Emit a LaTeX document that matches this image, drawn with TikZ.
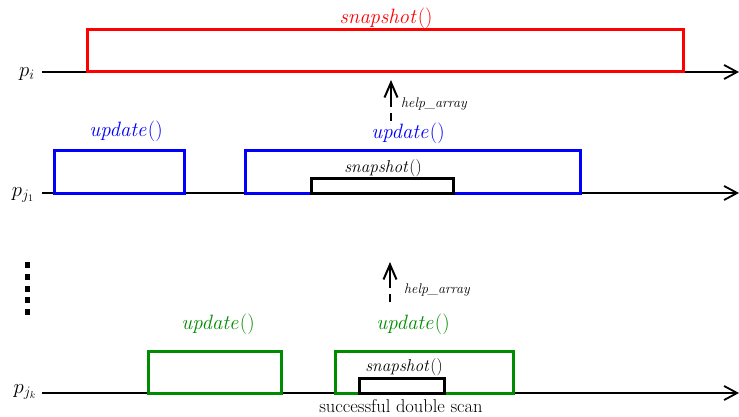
\documentclass[tikz,border=0pt]{standalone}
\usetikzlibrary{arrows.meta}
\definecolor{mygreen}{RGB}{0,140,0}
\begin{document}
\begin{tikzpicture}[x=1pt,y=-1pt,
  timeline/.style={line width=1.8pt,-{Straight Barb[length=13pt,width=14pt,line width=1.8pt]}},
  opbox/.style={line width=3pt},
  snapbox/.style={line width=3pt,black},
  biglab/.style={font=\fontsize{20}{22}\selectfont, inner sep=0pt},
  midlab/.style={font=\fontsize{17}{19}\selectfont, inner sep=0pt},
  doublab/.style={font=\fontsize{18.5}{20}\selectfont, inner sep=0pt},
  smalllab/.style={font=\fontsize{14}{16}\selectfont, inner sep=0pt},
  helparrow/.style={line width=2pt,dash pattern=on 8pt off 6pt on 40pt,-{Straight Barb[length=15pt,width=13pt,line width=2pt]}},
  dotsq/.style={fill=black,minimum width=5pt,minimum height=6pt,inner sep=0pt}
]
\useasboundingbox (0,0) rectangle (739,417);

% process labels
\node[biglab] (lpi) at (27,74) {$p_i$};
\node[biglab] (lpj1) at (23,195) {$p_{j_1}$};
\node[biglab] (lpjk) at (25,392) {$p_{j_k}$};

% timelines
\coordinate (ti0) at (42,72);  \coordinate (ti1) at (739,72);
\coordinate (tj0) at (42,193); \coordinate (tj1) at (739,193);
\coordinate (tk0) at (42,393); \coordinate (tk1) at (739,393);
\draw[timeline] (ti0) -- (ti1);
\draw[timeline] (tj0) -- (tj1);
\draw[timeline] (tk0) -- (tk1);

% p_i snapshot
\draw[opbox,red] (87,30) rectangle (683,72);
\node[biglab,red] (sni) at (386,18) {$\mathit{snapshot}()$};

% help arrows
\coordinate (h1a) at (391,121); \coordinate (h1b) at (391,80);
\draw[helparrow] (h1a) -- (h1b);
\node[smalllab,anchor=west] (hl1) at (401,104) {\itshape help\_array};
\coordinate (h2a) at (390,302); \coordinate (h2b) at (390,262);
\draw[helparrow] (h2a) -- (h2b);
\node[smalllab,anchor=west] (hl2) at (404,290) {\itshape help\_array};

% p_j1 updates
\draw[opbox,blue] (54,151) rectangle (184,193);
\node[biglab,blue] (u1) at (126,131) {$\mathit{update}()$};
\draw[opbox,blue] (245,151) rectangle (580,193);
\node[biglab,blue] (u2) at (408,133) {$\mathit{update}()$};
\draw[snapbox] (311,178) rectangle (453,193);
\node[midlab] (s1) at (383,168) {$\mathit{snapshot}()$};

% vertical dots
\foreach \yy/\nm in {265/d1,277/d2,289/d3,300/d4,312/d5}
  \node[dotsq] (\nm) at (27,\yy) {};

% p_jk updates
\draw[opbox,mygreen] (148,351) rectangle (281,393);
\node[biglab,mygreen] (u3) at (218,324) {$\mathit{update}()$};
\draw[opbox,mygreen] (335,351) rectangle (513,393);
\node[biglab,mygreen] (u4) at (413,324) {$\mathit{update}()$};
\draw[snapbox] (359,378) rectangle (444,393);
\node[midlab] (s2) at (404,367) {$\mathit{snapshot}()$};
\node[doublab] (sds) at (401,406) {successful double scan};
\end{tikzpicture}
\end{document}
